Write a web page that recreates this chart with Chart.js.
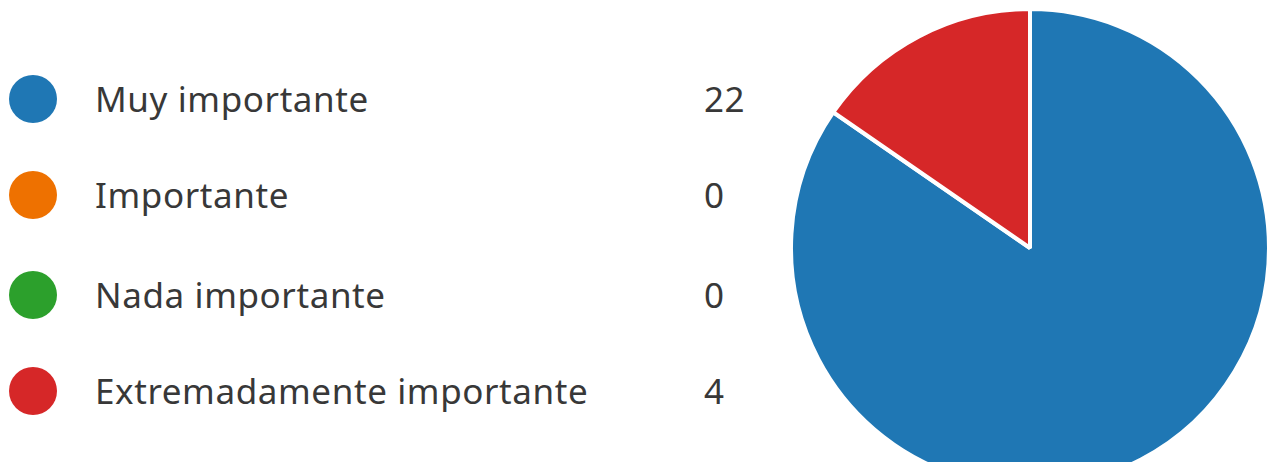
<!DOCTYPE html>
<html>
<head>
<meta charset="utf-8">
<script src="https://cdn.jsdelivr.net/npm/chart.js@4/dist/chart.umd.min.js"></script>
<style>
  html, body { margin: 0; padding: 0; width: 1267px; height: 462px; overflow: hidden; background: #fff; }
  #legend { position: absolute; left: 0; top: 0; font-family: "Noto Sans", sans-serif; font-size: 35px; color: #383838; }
  .row { position: absolute; left: 0; height: 50px; width: 800px; }
  .dot { position: absolute; left: 9px; top: 1px; width: 48px; height: 48px; border-radius: 50%; }
  .lab { position: absolute; left: 95px; top: 0; line-height: 50px; white-space: nowrap; letter-spacing: 0.6px; }
  .num { position: absolute; left: 704px; top: 0; line-height: 50px; letter-spacing: 0.6px; }
  #wrap { position: absolute; left: 790px; top: 8px; width: 480px; height: 480px; }
</style>
</head>
<body>
<div id="legend"></div>
<div id="wrap"><canvas id="c" width="480" height="480"></canvas></div>
<script>
const categories = ["Muy importante", "Importante", "Nada importante", "Extremadamente importante"];
const counts = [22, 0, 0, 4];
const colors = ["#1f77b4", "#ee7100", "#2ca02c", "#d62728"];

const rowTops = [74, 170, 270, 366];
const legend = document.getElementById('legend');
categories.forEach((name, i) => {
  const row = document.createElement('div');
  row.className = 'row';
  row.style.top = rowTops[i] + 'px';
  const dot = document.createElement('div');
  dot.className = 'dot';
  dot.style.background = colors[i];
  const lab = document.createElement('div');
  lab.className = 'lab';
  lab.textContent = name;
  const num = document.createElement('div');
  num.className = 'num';
  num.textContent = String(counts[i]);
  row.appendChild(dot); row.appendChild(lab); row.appendChild(num);
  legend.appendChild(row);
});

new Chart(document.getElementById('c'), {
  type: 'pie',
  data: {
    labels: categories,
    datasets: [{
      data: counts,
      backgroundColor: colors,
      borderColor: '#ffffff',
      borderWidth: 4,
      hoverOffset: 0
    }]
  },
  options: {
    responsive: false,
    animation: false,
    radius: 239,
    layout: { padding: 0 },
    plugins: { legend: { display: false }, tooltip: { enabled: false } }
  }
});
</script>
</body>
</html>
